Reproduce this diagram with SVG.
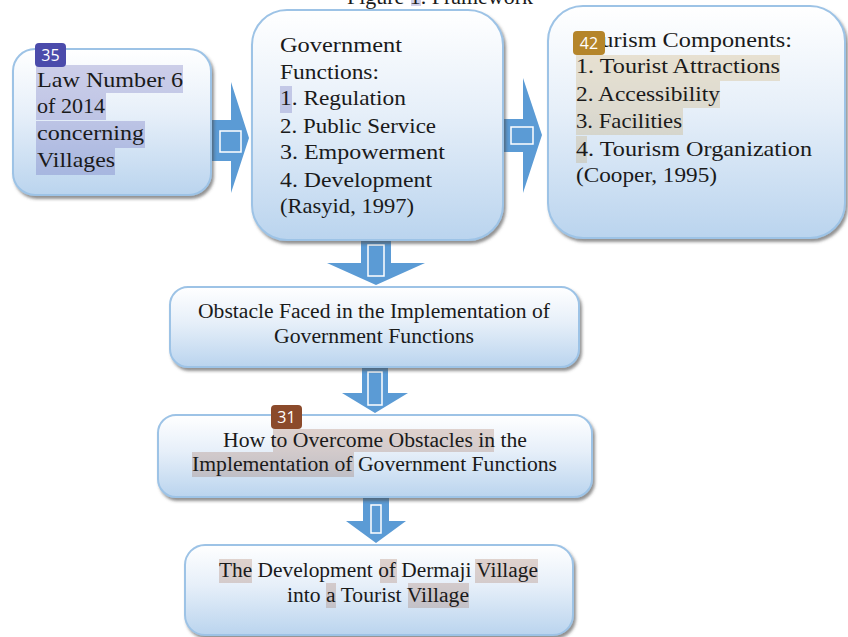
<svg xmlns="http://www.w3.org/2000/svg" width="848" height="637" viewBox="0 0 848 637">
<defs>
<linearGradient id="boxGrad" x1="0" y1="0" x2="0" y2="1">
<stop offset="0" stop-color="#ffffff"/>
<stop offset="0.45" stop-color="#e6eff9"/>
<stop offset="1" stop-color="#bad4ee"/>
</linearGradient>
<filter id="shadow" x="-10%" y="-10%" width="125%" height="130%">
<feDropShadow dx="2" dy="3" stdDeviation="1.5" flood-color="#4a4a4a" flood-opacity="0.6"/>
</filter>
</defs>
<style>
.box{fill:url(#boxGrad);stroke:#9dc3e6;stroke-width:2;filter:url(#shadow);}
.t{font-family:"Liberation Serif","Times New Roman",serif;font-size:21px;fill:#1a1a1a;}
.ts{font-family:"Liberation Serif","Times New Roman",serif;font-size:20px;fill:#1a1a1a;}
.badge-t{font-family:"Open Sans","Noto Sans","DejaVu Sans",sans-serif;font-size:16px;fill:#ffffff;text-anchor:middle;}
.hl-purple{fill:#5a5ab4;opacity:0.28;}
.hl-tan{fill:#b8862a;opacity:0.2;}
.hl-brown{fill:#8b4a2b;opacity:0.22;}
.arrow{fill:#5b9bd5;}
.inner{fill:none;stroke:#ffffff;stroke-width:1.5;}
</style>

<g id="caption">
<rect class="hl-purple" x="411" y="0" width="10" height="6"/>
<text class="t" x="347" y="4" textLength="186" lengthAdjust="spacingAndGlyphs">Figure 1. Framework</text>
</g>

<g id="connectors">
<polygon class="arrow" points="210,120 231,120 231,82 249,138 231,193 231,161 210,161"/>
<rect class="inner" x="220" y="131" width="21" height="21"/>
<polygon class="arrow" points="503,119 523,119 523,78 542,135 523,193 523,152 503,152"/>
<rect class="inner" x="511" y="127" width="22" height="17"/>
<polygon class="arrow" points="361,240 391,240 391,263 425,263 376,285 327,263 361,263"/>
<rect class="inner" x="368" y="245" width="16" height="31"/>
<polygon class="arrow" points="362,367 388,367 388,393 408,393 375,413 342,393 362,393"/>
<rect class="inner" x="368" y="372" width="14" height="33"/>
<polygon class="arrow" points="363,497 389,497 389,521 406,521 376,543 346,521 363,521"/>
<rect class="inner" x="371" y="505" width="10" height="28"/>
</g>

<g id="node-law">
<rect class="box" x="13" y="49" width="198" height="146" rx="22"/>
<rect class="hl-purple" x="36" y="65" width="147" height="28"/>
<rect class="hl-purple" x="36" y="93" width="70" height="27"/>
<rect class="hl-purple" x="36" y="121" width="109" height="27"/>
<rect class="hl-purple" x="36" y="148" width="79" height="27"/>
<text class="t" x="37" y="87" textLength="146" lengthAdjust="spacingAndGlyphs">Law Number 6</text>
<text class="t" x="37" y="113" textLength="68" lengthAdjust="spacingAndGlyphs">of 2014</text>
<text class="t" x="37" y="140" textLength="107" lengthAdjust="spacingAndGlyphs">concerning</text>
<text class="t" x="37" y="167" textLength="78" lengthAdjust="spacingAndGlyphs">Villages</text>
<rect x="35" y="43" width="31" height="24" rx="4" fill="#4b4bab"/>
<text class="badge-t" x="50.5" y="61">35</text>
</g>

<g id="node-gov">
<rect class="box" x="252" y="10" width="251" height="230" rx="35"/>
<rect class="hl-purple" x="280" y="86" width="12" height="27"/>
<text class="t" x="280" y="52" textLength="122" lengthAdjust="spacingAndGlyphs">Government</text>
<text class="t" x="280" y="79" textLength="99" lengthAdjust="spacingAndGlyphs">Functions:</text>
<text class="t" x="280" y="105" textLength="126" lengthAdjust="spacingAndGlyphs">1. Regulation</text>
<text class="t" x="280" y="133" textLength="156" lengthAdjust="spacingAndGlyphs">2. Public Service</text>
<text class="t" x="280" y="159" textLength="165" lengthAdjust="spacingAndGlyphs">3. Empowerment</text>
<text class="t" x="280" y="187" textLength="152" lengthAdjust="spacingAndGlyphs">4. Development</text>
<text class="t" x="280" y="213" textLength="134" lengthAdjust="spacingAndGlyphs">(Rasyid, 1997)</text>
</g>

<g id="node-tourism">
<rect class="box" x="548" y="6" width="297" height="232" rx="35"/>
<rect class="hl-tan" x="576" y="55" width="204" height="26"/>
<rect class="hl-tan" x="576" y="81" width="144" height="27"/>
<rect class="hl-tan" x="576" y="108" width="107" height="27"/>
<rect class="hl-tan" x="576" y="136" width="11" height="27"/>
<text class="t" x="576" y="47" textLength="216" lengthAdjust="spacingAndGlyphs">Tourism Components:</text>
<text class="t" x="576" y="73" textLength="204" lengthAdjust="spacingAndGlyphs">1. Tourist Attractions</text>
<text class="t" x="576" y="101" textLength="144" lengthAdjust="spacingAndGlyphs">2. Accessibility</text>
<text class="t" x="576" y="128" textLength="106" lengthAdjust="spacingAndGlyphs">3. Facilities</text>
<text class="t" x="576" y="156" textLength="236" lengthAdjust="spacingAndGlyphs">4. Tourism Organization</text>
<text class="t" x="576" y="182" textLength="141" lengthAdjust="spacingAndGlyphs">(Cooper, 1995)</text>
<rect x="573" y="31" width="32" height="24" rx="4" fill="#b5852a"/>
<text class="badge-t" x="589" y="49">42</text>
</g>

<g id="node-obstacle">
<rect class="box" x="170" y="287" width="409" height="80" rx="18"/>
<text class="ts" x="198" y="318" textLength="352" lengthAdjust="spacingAndGlyphs">Obstacle Faced in the Implementation of</text>
<text class="ts" x="274" y="343" textLength="200" lengthAdjust="spacingAndGlyphs">Government Functions</text>
</g>

<g id="node-overcome">
<rect class="box" x="158" y="415" width="434" height="82" rx="18"/>
<rect class="hl-brown" x="273" y="429" width="221" height="23"/>
<rect class="hl-brown" x="192" y="452" width="162" height="25"/>
<text class="ts" x="223" y="447" textLength="304" lengthAdjust="spacingAndGlyphs">How to Overcome Obstacles in the</text>
<text class="ts" x="192" y="471" textLength="365" lengthAdjust="spacingAndGlyphs">Implementation of Government Functions</text>
<rect x="271" y="405" width="31" height="24" rx="4" fill="#8b4a2b"/>
<text class="badge-t" x="286.5" y="423">31</text>
</g>

<g id="node-development">
<rect class="box" x="185" y="545" width="388" height="90" rx="20"/>
<rect class="hl-brown" x="219" y="559" width="33" height="24"/>
<rect class="hl-brown" x="380" y="559" width="17" height="24"/>
<rect class="hl-brown" x="475" y="559" width="63" height="24"/>
<rect class="hl-brown" x="326" y="583" width="10" height="25"/>
<rect class="hl-brown" x="408" y="583" width="61" height="25"/>
<text class="ts" x="219" y="577" textLength="319" lengthAdjust="spacingAndGlyphs">The Development of Dermaji Village</text>
<text class="ts" x="287" y="602" textLength="182" lengthAdjust="spacingAndGlyphs">into a Tourist Village</text>
</g>
</svg>
